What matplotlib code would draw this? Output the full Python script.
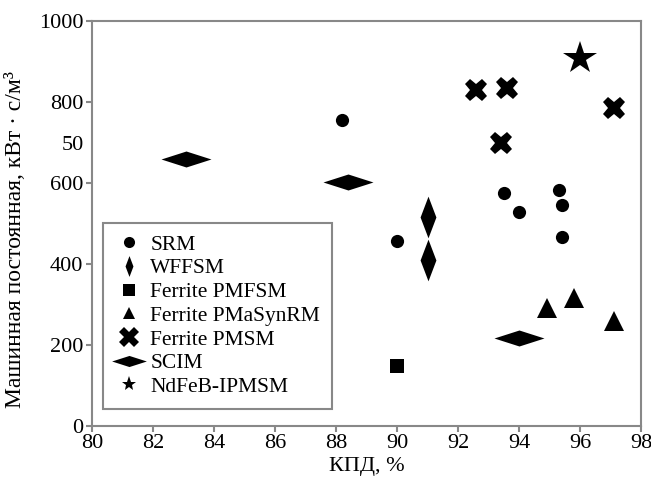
import numpy as np
import matplotlib
matplotlib.use('Agg')
import matplotlib.pyplot as plt
from matplotlib.lines import Line2D

plt.rcParams['font.family'] = ['Liberation Serif', 'DejaVu Serif']

# data (efficiency %, machine constant kW*s/m^3)
srm_x = [88.2, 90.0, 93.5, 94.0, 95.3, 95.4, 95.4]
srm_y = [755, 457, 576, 528, 583, 546, 466]
wffsm_x = [91.0, 91.0]
wffsm_y = [515, 410]
pmfsm_x = [90.0]
pmfsm_y = [147]
pmasyn_x = [94.9, 95.8, 97.1]
pmasyn_y = [290, 315, 258]
pmsm_x = [92.6, 93.6, 93.4, 97.1]
pmsm_y = [830, 835, 700, 786]
scim_x = [83.1, 88.4, 94.0]
scim_y = [660, 603, 216]
ndfeb_x = [96.0]
ndfeb_y = [908]

labels = ['SRM', 'WFFSM', 'Ferrite PMFSM', 'Ferrite PMaSynRM',
          'Ferrite PMSM', 'SCIM', 'NdFeB-IPMSM']
yticks = [0, 200, 400, 600, 700, 800, 1000]
yticklabels = ['0', '200', '400', '600', '50', '800', '1000']
xticks = np.arange(80, 99, 2)

thin_diamond = [(0, 1), (0.38, 0), (0, -1), (-0.38, 0), (0, 1)]
wide_diamond = [(-1, 0), (0, 0.32), (1, 0), (0, -0.32), (-1, 0)]

fig = plt.figure(figsize=(6.51, 4.79), dpi=100)
ax = fig.add_axes([0.141, 0.111, 0.844, 0.845])

kw = dict(linestyle='none', color='black', markeredgewidth=0)
ax.plot(srm_x, srm_y, marker='o', markersize=9.5, **kw)
ax.plot(wffsm_x, wffsm_y, marker=thin_diamond, markersize=30, **kw)
ax.plot(pmfsm_x, pmfsm_y, marker='s', markersize=10, **kw)
ax.plot(pmasyn_x, pmasyn_y, marker='^', markersize=15, **kw)
ax.plot(pmsm_x, pmsm_y, marker='X', markersize=16, **kw)
ax.plot(scim_x, scim_y, marker=wide_diamond, markersize=36, **kw)
ax.plot(ndfeb_x, ndfeb_y, marker='*', markersize=25, **kw)

# legend markers are drawn smaller than in the plot
handles = [
    Line2D([], [], marker='o', markersize=8, **kw),
    Line2D([], [], marker=thin_diamond, markersize=15, **kw),
    Line2D([], [], marker='s', markersize=9, **kw),
    Line2D([], [], marker='^', markersize=9, **kw),
    Line2D([], [], marker='X', markersize=15, **kw),
    Line2D([], [], marker=wide_diamond, markersize=25, **kw),
    Line2D([], [], marker='*', markersize=11, **kw),
]
leg = ax.legend(handles, labels, loc='lower left', bbox_to_anchor=(0.02, 0.042),
                borderaxespad=0, fontsize=15.5, labelspacing=0.17,
                handlelength=1.3, handletextpad=0.35, borderpad=0.55,
                fancybox=False, edgecolor='#888888', framealpha=1)
leg.get_frame().set_linewidth(1.5)

ax.set_xlim(80, 98)
ax.set_ylim(0, 1000)
ax.set_xticks(xticks)
ax.set_yticks(yticks)
ax.set_yticklabels(yticklabels)
ax.yaxis.get_major_ticks()[4].tick1line.set_visible(False)
ax.tick_params(labelsize=16, length=4, width=1.5, color='#888888', pad=2)
for s in ax.spines.values():
    s.set_color('#888888')
    s.set_linewidth(1.5)

ax.set_xlabel('КПД, %', fontsize=16)
ax.set_ylabel('Машинная постоянная, кВт · с/м³', fontsize=17)
ax.xaxis.set_label_coords(0.5, -0.077)
ax.yaxis.set_label_coords(-0.12, 0.46)

fig.savefig('out.png', dpi=100)
